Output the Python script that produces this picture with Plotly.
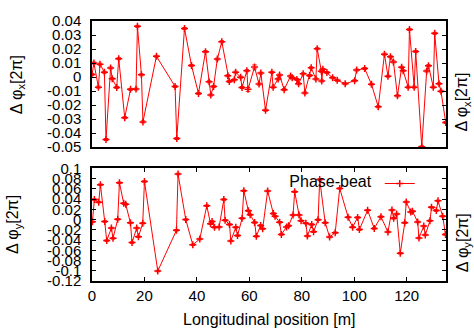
import plotly.graph_objects as go

# ---- data ----
s_x = [0.0, 0.73, 2.44, 3.05, 4.73, 5.34, 7.10, 7.71, 9.43, 10.19,
       12.48, 14.69, 16.79, 17.33, 18.85, 19.43, 24.58, 31.68, 32.33, 35.27,
       37.94, 40.61, 43.28, 44.66, 45.31, 46.37, 47.79, 49.50, 51.79, 52.37,
       54.27, 54.77, 56.68, 57.21, 59.05, 59.50, 61.98, 63.70, 64.39, 66.18,
       68.59, 69.08, 70.99, 71.53, 73.28, 75.73, 76.34, 78.13, 78.78, 80.53,
       81.18, 82.98, 83.59, 85.38, 85.88, 87.48, 87.60, 88.05, 89.58, 91.76,
       93.51, 96.56, 100.15, 100.92, 103.97, 106.57, 109.16, 111.53, 112.86, 113.82,
       114.96, 116.49, 118.09, 118.66, 120.57, 121.07, 122.86, 123.44, 125.76, 127.63,
       128.32, 130.15, 130.69, 132.33, 133.09, 134.89]
dphi_x = [0.0019, 0.0100, -0.0072, 0.0092, 0.0034, -0.0446, 0.0065, -0.0012, -0.0074, 0.0131,
          -0.0290, -0.0088, -0.0086, 0.0362, 0.0016, -0.0320, 0.0148, -0.0067, -0.0439, 0.0347,
          0.0083, -0.0117, 0.0181, -0.0034, -0.0128, -0.0067, 0.0128, 0.0252, 0.0009, -0.0031,
          -0.0020, 0.0035, -0.0001, -0.0075, 0.0045, -0.0088, 0.0072, -0.0050, 0.0028, -0.0237,
          0.0034, -0.0072, -0.0014, 0.0014, -0.0090, 0.0007, -0.0005, -0.0017, -0.0048, 0.0023,
          -0.0113, 0.0011, 0.0066, -0.0014, 0.0202, 0.0041, -0.0028, 0.0055, 0.0032, -0.0005,
          -0.0023, -0.0048, -0.0026, 0.0050, 0.0061, -0.0051, -0.0212, 0.0163, 0.0006, 0.0145,
          0.0108, -0.0134, 0.0070, 0.0045, -0.0072, 0.0340, -0.0072, 0.0183, -0.0498, 0.0043,
          0.0081, -0.0072, 0.0312, -0.0048, -0.0101, -0.0324]
err_x = [0.0007, 0.0007, 0.0007, 0.0007, 0.0007, 0.0007, 0.0007, 0.0007, 0.0007, 0.0007,
         0.0007, 0.0007, 0.0007, 0.0007, 0.0007, 0.0007, 0.0007, 0.0007, 0.0007, 0.0007,
         0.0007, 0.0007, 0.0007, 0.0007, 0.0007, 0.0007, 0.0007, 0.0007, 0.0007, 0.0007,
         0.0007, 0.0007, 0.0007, 0.0007, 0.0007, 0.0014, 0.0014, 0.0007, 0.0007, 0.0007,
         0.0007, 0.0007, 0.0007, 0.0007, 0.0007, 0.0007, 0.0007, 0.0007, 0.0007, 0.0007,
         0.0007, 0.0007, 0.0007, 0.0007, 0.0007, 0.0007, 0.0007, 0.0007, 0.0007, 0.0007,
         0.0007, 0.0007, 0.0007, 0.0007, 0.0007, 0.0007, 0.0007, 0.0007, 0.0007, 0.0007,
         0.0007, 0.0007, 0.0007, 0.0007, 0.0007, 0.0007, 0.0007, 0.0007, 0.0007, 0.0007,
         0.0007, 0.0007, 0.0007, 0.0007, 0.0007, 0.0007]

s_y = [0.15, 0.92, 2.56, 3.21, 4.85, 5.61, 7.40, 8.02, 9.81, 10.46,
       12.10, 12.86, 14.66, 15.27, 17.06, 17.71, 19.35, 20.00, 25.08, 32.21,
       32.82, 35.76, 38.44, 41.11, 43.78, 45.19, 45.80, 46.72, 48.47, 50.27,
       50.76, 52.44, 52.94, 54.85, 55.50, 57.25, 57.90, 59.62, 60.31, 62.02,
       62.67, 64.31, 65.08, 66.98, 69.16, 69.81, 71.56, 72.21, 74.20, 74.96,
       76.68, 77.29, 78.97, 79.73, 81.56, 82.14, 83.78, 84.50, 86.22, 86.83,
       88.93, 90.61, 92.75, 94.47, 97.67, 99.39, 101.30, 101.98, 105.11, 107.63,
       110.19, 112.86, 114.39, 115.04, 116.18, 117.56, 119.27, 119.85, 121.56, 122.21,
       124.20, 124.69, 126.53, 127.10, 128.89, 129.47, 131.30, 131.95, 133.74, 134.81]
dphi_y = [-0.0044, 0.0392, 0.0341, 0.0682, -0.0038, -0.0411, -0.0165, -0.0366, 0.0006, 0.0720,
          0.0317, 0.0298, -0.0063, -0.0449, -0.0165, -0.0336, -0.0070, 0.0745, -0.1005, -0.0209,
          0.0891, 0.0000, -0.0493, -0.0379, 0.0271, -0.0082, -0.0038, -0.0152, -0.0146, 0.0392,
          -0.0013, -0.0095, -0.0417, -0.0152, -0.0313, 0.0025, 0.0563, 0.0174, 0.0095, -0.0057,
          -0.0326, -0.0114, -0.0180, 0.0559, 0.0119, 0.0063, -0.0053, -0.0290, -0.0146, -0.0120,
          0.0089, 0.0544, 0.0089, -0.0023, -0.0072, -0.0322, -0.0095, -0.0237, -0.0004, 0.0783,
          -0.0061, -0.0341, -0.0256, 0.0610, 0.0047, -0.0148, 0.0042, -0.0195, 0.0184, -0.0174,
          0.0057, -0.0241, 0.0186, 0.0025, 0.0110, -0.0658, -0.0061, 0.0345, 0.0146, 0.0165,
          -0.0047, -0.0360, -0.0127, -0.0300, -0.0023, 0.0241, 0.0176, 0.0366, 0.0066, -0.0290]
err_y = [0.0015, 0.0015, 0.0015, 0.0015, 0.0015, 0.0015, 0.0015, 0.0015, 0.0015, 0.0015,
         0.0015, 0.0015, 0.0015, 0.0015, 0.0015, 0.0015, 0.0015, 0.0015, 0.0015, 0.0015,
         0.0015, 0.0015, 0.0015, 0.0015, 0.0015, 0.0015, 0.0015, 0.0015, 0.0015, 0.0015,
         0.0015, 0.0015, 0.0015, 0.0015, 0.0015, 0.0015, 0.0015, 0.0015, 0.0015, 0.0015,
         0.0015, 0.0015, 0.0015, 0.0015, 0.0015, 0.0015, 0.0015, 0.0015, 0.0015, 0.0015,
         0.0015, 0.0015, 0.0015, 0.0015, 0.0015, 0.0015, 0.0015, 0.0015, 0.0015, 0.0015,
         0.0015, 0.0015, 0.0015, 0.0015, 0.0015, 0.0015, 0.0015, 0.0015, 0.0015, 0.0015,
         0.0015, 0.0015, 0.0015, 0.0015, 0.0015, 0.0015, 0.0015, 0.0015, 0.0015, 0.0015,
         0.0015, 0.0015, 0.0015, 0.0015, 0.0015, 0.0015, 0.0015, 0.0015, 0.0015, 0.0015]

x_ticks = [0, 20, 40, 60, 80, 100, 120]
x_ticklabels = ["0", "20", "40", "60", "80", "100", "120"]
yx_ticks = [0.04, 0.03, 0.02, 0.01, 0, -0.01, -0.02, -0.03, -0.04, -0.05]
yx_ticklabels = ["0.04", "0.03", "0.02", "0.01", "0", "-0.01", "-0.02", "-0.03", "-0.04", "-0.05"]
yy_ticks = [0.1, 0.08, 0.06, 0.04, 0.02, 0, -0.02, -0.04, -0.06, -0.08, -0.1, -0.12]
yy_ticklabels = ["0.1", "0.08", "0.06", "0.04", "0.02", "0", "-0.02", "-0.04", "-0.06", "-0.08", "-0.1", "-0.12"]

RED = "#ff0000"
FONT = "Liberation Sans, Arial, sans-serif"
FS = 15      # tick labels
FT = 16      # titles / legend

def trace(x, y, err, xa, ya, show, name):
    return go.Scatter(
        x=x, y=y, xaxis=xa, yaxis=ya, mode="lines+markers", name=name,
        showlegend=show,
        line=dict(color=RED, width=1),
        marker=dict(symbol="cross-thin", size=5, color=RED, line=dict(color=RED, width=1.5)),
        error_y=dict(type="data", array=err, color=RED, thickness=1, width=2.2),
    )

fig = go.Figure()
fig.add_trace(trace(s_x, dphi_x, err_x, "x", "y", False, "Phase-beat x"))
fig.add_trace(trace(s_y, dphi_y, err_y, "x2", "y2", True, " "))

axis_common = dict(showline=True, linecolor="black", linewidth=1.5, showgrid=False,
                   zeroline=False, ticks="inside", ticklen=4, tickcolor="black",
                   tickwidth=1, mirror="ticks",
                   tickfont=dict(family=FONT, size=FS, color="black"))

fig.update_layout(
    width=474, height=330,
    margin=dict(l=92, r=28, t=13, b=49),
    paper_bgcolor="white", plot_bgcolor="white",
    font=dict(family=FONT, size=FS, color="black"),
    xaxis=dict(axis_common, domain=[0, 1], anchor="y", range=[0, 135],
               showticklabels=False, ticks="", mirror=True),
    yaxis=dict(axis_common, domain=[0.515, 1], anchor="x", range=[-0.05, 0.04],
               tickvals=yx_ticks, ticktext=yx_ticklabels, ticklabelstandoff=6),
    xaxis2=dict(axis_common, domain=[0, 1], anchor="y2", range=[0, 135],
                tickvals=x_ticks, ticktext=x_ticklabels),
    yaxis2=dict(axis_common, domain=[0, 0.433], anchor="x2", range=[-0.12, 0.1],
                tickvals=yy_ticks, ticktext=yy_ticklabels, ticklabelstandoff=6),
    legend=dict(x=0.953, xanchor="right", y=0.44, yanchor="top",
                bgcolor="rgba(0,0,0,0)", borderwidth=0,
                title=dict(text="Phase-beat", side="left", font=dict(family=FONT, size=FT)),
                font=dict(family=FONT, size=FT)),
    showlegend=True,
)

ann = dict(xref="paper", yref="paper", showarrow=False,
           xanchor="center", yanchor="middle", font=dict(family=FONT, size=FT, color="black"))
fig.add_annotation(ann, x=0.5, y=-0.149, text="Longitudinal position [m]")
fig.add_annotation(ann, x=-0.212, y=0.757, textangle=-90, text="Δ φ<sub>x</sub>[2π]")
fig.add_annotation(ann, x=-0.220, y=0.216, textangle=-90, text="Δ φ<sub>y</sub>[2π]")
fig.add_annotation(ann, x=1.048, y=0.690, textangle=-90, text="Δ φ<sub>x</sub>[2π]")
fig.add_annotation(ann, x=1.048, y=0.149, textangle=-90, text="Δ φ<sub>y</sub>[2π]")

fig.write_html("out.html")
